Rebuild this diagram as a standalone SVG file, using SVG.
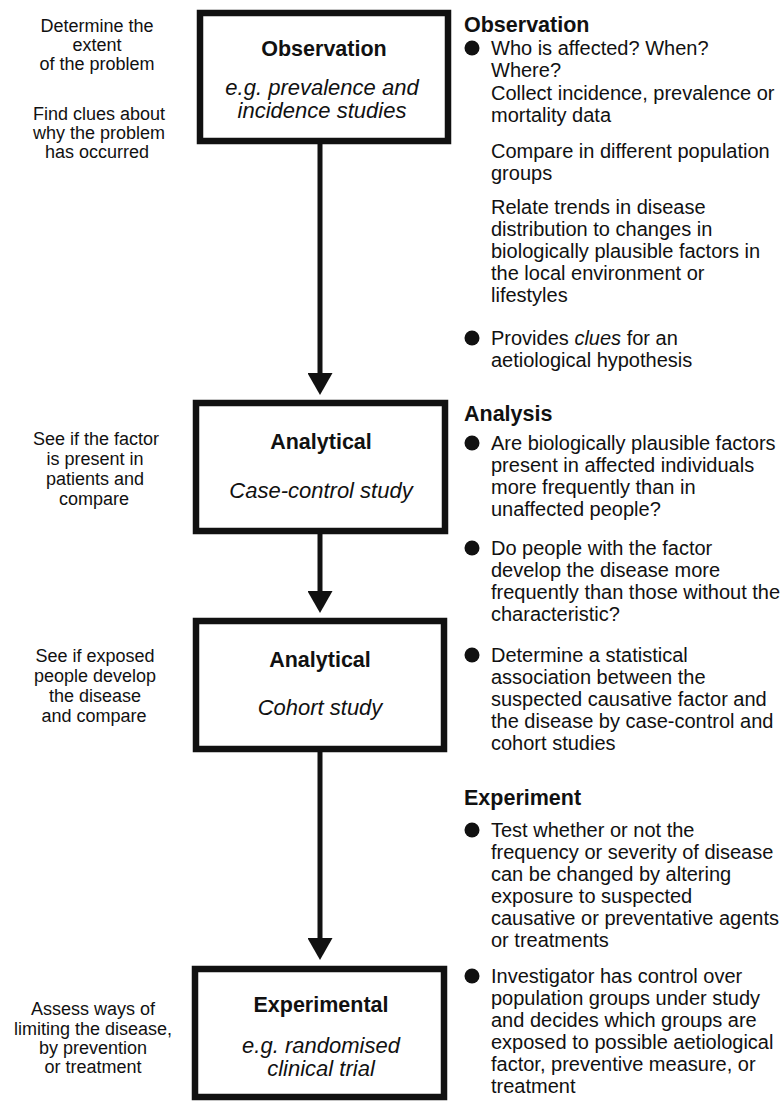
<svg xmlns="http://www.w3.org/2000/svg" width="781" height="1102" viewBox="0 0 781 1102">
<style>
text{font-family:"Liberation Sans",Arial,Helvetica,sans-serif;fill:#111}
.l{font-size:18px;text-anchor:middle}
.bt{font-size:21.5px;font-weight:bold;text-anchor:middle}
.bi{font-size:22px;font-style:italic;text-anchor:middle}
.h{font-size:21.5px;font-weight:bold}
.r{font-size:20px}
.box{fill:#fff;stroke:#111;stroke-width:6.5}
.bul{fill:#111}
.conn{stroke:#111;stroke-width:5;fill:none;marker-end:url(#ah)}
</style>
<defs>
<marker id="ah" markerUnits="userSpaceOnUse" markerWidth="22" markerHeight="25" viewBox="0 0 22 25" refX="0" refY="12.5" orient="auto">
<path d="M0,0 L22,12.5 L0,25 z" fill="#111"/>
</marker>
</defs>
<rect width="781" height="1102" fill="#fff"/>

<g id="connectors">
<line class="conn" x1="320" y1="144" x2="320" y2="373"/>
<line class="conn" x1="320" y1="534" x2="320" y2="591"/>
<line class="conn" x1="320" y1="752" x2="320" y2="938"/>
</g>

<g id="node-observation">
<rect class="box" x="200" y="13" width="248" height="128"/>
<text class="bt" x="324" y="56">Observation</text>
<text class="bi" x="322" y="95" font-size="21">e.g. prevalence and</text>
<text class="bi" x="322" y="118" font-size="21">incidence studies</text>
</g>

<g id="node-analytical-casecontrol">
<rect class="box" x="196" y="403" width="249" height="128"/>
<text class="bt" x="321" y="449">Analytical</text>
<text class="bi" x="321" y="498">Case-control study</text>
</g>

<g id="node-analytical-cohort">
<rect class="box" x="196" y="621" width="248" height="128"/>
<text class="bt" x="320" y="667">Analytical</text>
<text class="bi" x="320" y="715">Cohort study</text>
</g>

<g id="node-experimental">
<rect class="box" x="195" y="969" width="249" height="128"/>
<text class="bt" x="321" y="1012">Experimental</text>
<text class="bi" x="321" y="1053">e.g. randomised</text>
<text class="bi" x="321" y="1076">clinical trial</text>
</g>

<g id="left-notes">
<text class="l" x="97" y="32">Determine the</text>
<text class="l" x="97" y="51">extent</text>
<text class="l" x="97" y="70">of the problem</text>
<text class="l" x="99" y="120">Find clues about</text>
<text class="l" x="99" y="139">why the problem</text>
<text class="l" x="97" y="158">has occurred</text>

<text class="l" x="96" y="445">See if the factor</text>
<text class="l" x="95" y="465">is present in</text>
<text class="l" x="95" y="485">patients and</text>
<text class="l" x="94" y="505">compare</text>

<text class="l" x="95" y="662">See if exposed</text>
<text class="l" x="95" y="682">people develop</text>
<text class="l" x="95" y="702">the disease</text>
<text class="l" x="94" y="722">and compare</text>

<text class="l" x="93" y="1015">Assess ways of</text>
<text class="l" x="93" y="1035">limiting the disease,</text>
<text class="l" x="93" y="1054">by prevention</text>
<text class="l" x="93" y="1073">or treatment</text>
</g>

<g id="right-observation">
<text class="h" x="464" y="32">Observation</text>
<circle class="bul" cx="472" cy="48" r="7.5"/>
<text class="r" x="491" y="55">Who is affected? When?</text>
<text class="r" x="491" y="77">Where?</text>
<text class="r" x="491" y="100">Collect incidence, prevalence or</text>
<text class="r" x="491" y="122">mortality data</text>
<text class="r" x="491" y="158">Compare in different population</text>
<text class="r" x="491" y="180">groups</text>
<text class="r" x="491" y="214">Relate trends in disease</text>
<text class="r" x="491" y="236">distribution to changes in</text>
<text class="r" x="491" y="258">biologically plausible factors in</text>
<text class="r" x="491" y="280">the local environment or</text>
<text class="r" x="491" y="302">lifestyles</text>
<circle class="bul" cx="472" cy="338" r="7.5"/>
<text class="r" x="491" y="345">Provides <tspan font-style="italic">clues</tspan> for an</text>
<text class="r" x="491" y="367">aetiological hypothesis</text>
</g>

<g id="right-analysis">
<text class="h" x="464" y="421">Analysis</text>
<circle class="bul" cx="472" cy="443" r="7.5"/>
<text class="r" x="491" y="450">Are biologically plausible factors</text>
<text class="r" x="491" y="472">present in affected individuals</text>
<text class="r" x="491" y="494">more frequently than in</text>
<text class="r" x="491" y="516">unaffected people?</text>
<circle class="bul" cx="472" cy="548" r="7.5"/>
<text class="r" x="491" y="555">Do people with the factor</text>
<text class="r" x="491" y="577">develop the disease more</text>
<text class="r" x="491" y="599">frequently than those without the</text>
<text class="r" x="491" y="621">characteristic?</text>
<circle class="bul" cx="472" cy="655" r="7.5"/>
<text class="r" x="491" y="662">Determine a statistical</text>
<text class="r" x="491" y="684">association between the</text>
<text class="r" x="491" y="706">suspected causative factor and</text>
<text class="r" x="491" y="728">the disease by case-control and</text>
<text class="r" x="491" y="750">cohort studies</text>
</g>

<g id="right-experiment">
<text class="h" x="464" y="805">Experiment</text>
<circle class="bul" cx="472" cy="830" r="7.5"/>
<text class="r" x="491" y="837">Test whether or not the</text>
<text class="r" x="491" y="859">frequency or severity of disease</text>
<text class="r" x="491" y="881">can be changed by altering</text>
<text class="r" x="491" y="903">exposure to suspected</text>
<text class="r" x="491" y="925">causative or preventative agents</text>
<text class="r" x="491" y="947">or treatments</text>
<circle class="bul" cx="472" cy="976" r="7.5"/>
<text class="r" x="491" y="983">Investigator has control over</text>
<text class="r" x="491" y="1005">population groups under study</text>
<text class="r" x="491" y="1027">and decides which groups are</text>
<text class="r" x="491" y="1049">exposed to possible aetiological</text>
<text class="r" x="491" y="1071">factor, preventive measure, or</text>
<text class="r" x="491" y="1093">treatment</text>
</g>
</svg>
